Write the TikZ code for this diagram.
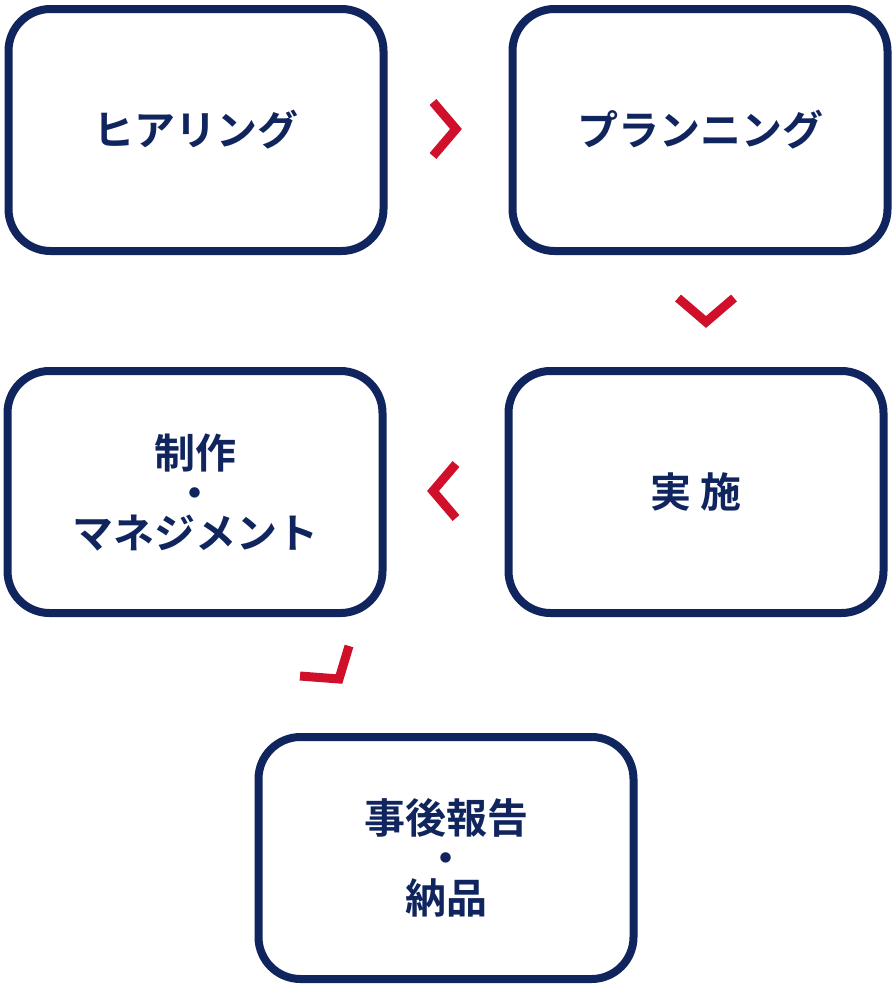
\documentclass[tikz,border=0pt]{standalone}
\usepackage{fontspec}
\newfontfamily\jpfont{Noto Sans CJK JP}[BoldFont={* Bold}]
\definecolor{navy}{HTML}{10245E}
\definecolor{chevred}{HTML}{D0102A}
\begin{document}
\begin{tikzpicture}[x=1pt,y=-1pt]
\tikzstyle{stepbox}=[draw = navy, line width = 8pt, rounded corners = 42pt, minimum width = 375pt, minimum height = 242pt, text = navy, align = center, font = \jpfont\bfseries\fontsize{41}{40}\selectfont]
\tikzstyle{chevron}=[draw = chevred, line width = 9pt, miter limit = 10]
\useasboundingbox (0,0) rectangle (896,988);
\node[stepbox] (hear) at (196,130) {\raisebox{-5pt}{ヒアリング}};
\node[stepbox] (plan) at (700,130) {\raisebox{-5pt}{プランニング}};
\node[stepbox] (prod) at (195,492) {制作\\・\\マネジメント};
\node[stepbox] (exec) at (696,492) {\raisebox{-8pt}{実 施}};
\node[stepbox] (rep) at (446,858) {事後報告\\・\\納品};
% chevrons
\draw[chevron] (433,102) -- (456,129) -- (433,156);
\draw[chevron] (678,298) -- (706,322) -- (734,298);
\draw[chevron] (456,464) -- (433,491) -- (456,518);
\draw[chevron] (300,676) -- (339,679) -- (349,646);
\end{tikzpicture}
\end{document}
